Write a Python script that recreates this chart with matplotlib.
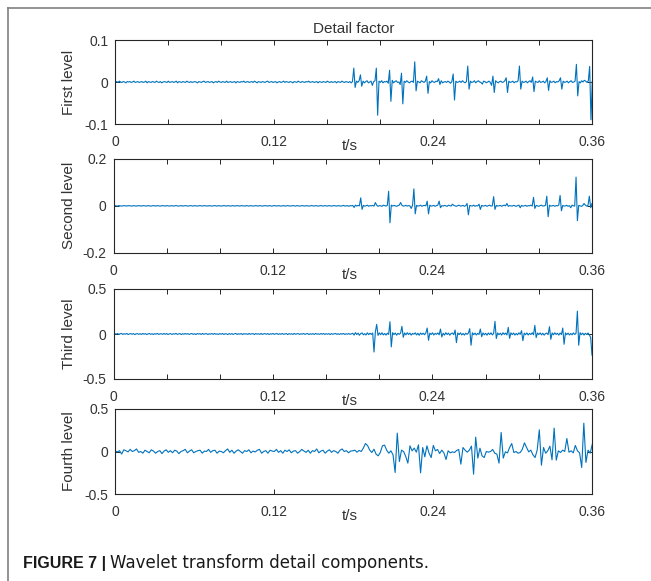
import numpy as np
import matplotlib
matplotlib.use("Agg")
import matplotlib.pyplot as plt
from matplotlib.lines import Line2D

# ---- data (levels 1-3: one sample per ms, values in units of 1e-3) ----
first_level = [
    0, 1, -1, 2, 0, -1, 1, 0, -2, 1, 0, 1, -1, 0, 2, -1, 0, 1, -1, 0,
    1, -1, 0, 2, -2, 1, 0, -1, 1, 0, -1, 2, 0, -1, 1, -2, 0, 1, 0, -1,
    2, -1, 0, 1, -1, 0, 2, -2, 1, 0, -1, 1, 0, -1, 2, 0, -1, 1, -1, 0,
    1, 0, -2, 1, 0, -1, 1, 2, -1, 0, 1, -1, 0, 1, -2, 0, 1, -1, 2, 0,
    -1, 1, 0, -1, 2, -1, 0, 1, -1, 0, 1, -2, 1, 0, -1, 1, 0, 2, -1, 0,
    1, -1, 0, 1, -1, 2, 0, -2, 1, 0, -1, 1, 0, -1, 1, 2, -1, 0, 1, -1,
    0, 1, -2, 0, 1, -1, 0, 2, -1, 1, 0, -1, 1, 0, -2, 1, 0, -1, 2, 0,
    -1, 1, 0, -1, 1, 0, 2, -1, 0, 1, -1, 0, 1, -2, 1, 0, -1, 1, 0, -1,
    2, 0, -1, 1, -1, 0, 1, -2, 1, 0, -1, 2, 0, -1, 1, 0, -1, 1, -2, 1,
    33, -13, 2, -1, 3, 17, -10, 2, -2, 1, 3, -2, 0, 2, -8, 1, 3, 33, -79, 2,
    -1, 3, -2, 1, 0, 2, -3, 28, -46, 4, -2, 1, 3, -1, 0, -6, 21, -52, 2, -1,
    3, 0, -2, 1, 2, -1, 48, -21, 2, 0, -2, 3, 1, -1, 2, 14, -27, 1, -2, 3,
    0, -1, 2, 1, 8, -6, 3, -2, 0, 1, -1, 2, 0, -3, 1, 19, -43, 2, -1, 0,
    2, -1, 3, 0, -2, 1, 38, -17, 2, -1, 0, 3, -2, 1, 3, 0, -1, -5, 2, 1,
    -2, 0, 2, -1, -8, 14, -25, 3, 0, -2, 1, 2, -1, 0, 3, 10, -25, 2, -1, 0,
    2, -2, 1, 0, 3, 38, -17, 2, -1, 0, 2, -2, 1, 3, -1, 12, -23, 2, 0, -1,
    3, -1, 0, 2, -2, 1, 10, -20, 3, -1, 0, 2, -2, 1, 0, 3, 10, -17, 2, -1,
    0, 2, -2, 1, 3, -1, 0, 2, 42, -33, 1, -2, 3, 0, 4, 2, -1, 3, 37, -90, 2,
]

second_level = [
    0, 1, 0, -1, 1, 0, -1, 0, 1, 0, -1, 1, 0, 0, -1, 1, 0, -1, 0, 1,
    0, -1, 1, 0, 0, -1, 1, 0, -1, 0, 1, 0, -1, 1, 0, -1, 0, 1, 0, -1,
    1, 0, -1, 0, 1, -1, 0, 1, 0, -1, 0, 1, -1, 0, 1, 0, -1, 0, 1, 0,
    -1, 1, 0, -1, 0, 1, 0, -1, 1, 0, 0, -1, 1, 0, -1, 0, 1, 0, -1, 1,
    0, -1, 0, 1, 0, -1, 1, 0, -1, 0, 1, -1, 0, 1, 0, -1, 1, 0, 0, -1,
    1, 0, -1, 1, 0, -1, 0, 1, 0, -1, 1, 0, -1, 0, 1, 0, -1, 1, 0, -1,
    0, 1, 0, -1, 1, 0, -1, 0, 1, -1, 0, 1, 0, -1, 0, 1, 0, -1, 1, 0,
    -1, 0, 1, 0, -1, 1, 0, -1, 0, 1, 0, -1, 1, 0, -1, 0, 1, 0, -1, 1,
    0, -1, 1, 0, -1, 0, 1, 0, -1, 1, 0, -1, 0, 2, -1, 0, 1, -2, 1, 0,
    2, -7, 3, -1, 2, 0, 34, -15, 2, -1, 0, 3, -2, 1, 0, 2, -1, 14, 3, -2,
    1, 0, -2, 3, 1, -1, 2, 62, -72, 3, -1, 2, 0, -2, 1, 3, 14, 2, -1, 0,
    2, -1, 1, 0, -11, 3, 72, -34, 2, -1, 0, 3, -2, 1, 2, 0, 20, -34, 3, -1,
    0, 2, -2, 1, 3, 20, -8, 1, -1, 2, 0, -2, 3, 1, -1, 7, 2, 0, -2, 1,
    3, -1, 0, 2, -2, 1, 10, -38, 2, 0, -1, 3, -2, 1, 0, 7, -15, 2, -1, 0,
    2, -2, 1, 3, -1, 0, 39, -15, 2, -1, 0, 2, -2, 1, 3, 0, 10, -2, 1, 0,
    -1, 2, 0, -2, 1, 3, -8, 2, -1, 0, 2, -2, 1, 0, 3, -1, 36, -11, 2, 0,
    -2, 1, 3, -1, 0, 2, 41, -46, 3, -1, 0, 2, -2, 1, 0, 3, 44, -21, 2, -1,
    0, 2, -2, 1, -8, 3, 0, -1, 122, -63, 2, 0, -2, 1, 10, 3, -1, 2, 41, -8, 10,
]

third_level = [
    0, 5, -3, 6, -4, 2, 7, -5, 3, -2, 6, -6, 1, 4, -3, 5, -7, 2, 4, -4,
    3, -5, 6, -2, 4, -6, 2, 5, -4, 3, -6, 4, -1, 6, -5, 2, 3, -4, 6, -3,
    5, -6, 2, 4, -5, 3, -2, 7, -4, 1, 5, -6, 3, -3, 6, -2, 4, -5, 2, 5,
    -4, 3, -6, 5, -1, 4, -5, 6, -3, 2, 4, -6, 3, -2, 5, -4, 6, -3, 2, -5,
    4, -2, 6, -5, 3, 1, -6, 5, -3, 4, -4, 2, 6, -5, 3, -2, 5, -6, 4, -1,
    3, -5, 6, -3, 2, 4, -6, 5, -2, 3, -4, 6, -5, 2, 4, -3, 5, -6, 3, -2,
    6, -4, 2, 5, -5, 3, -3, 6, -4, 1, 5, -6, 4, -2, 3, -5, 6, -3, 2, 4,
    -5, 3, -2, 6, -4, 2, 5, -6, 3, -3, 4, -5, 6, -2, 2, -4, 5, -3, 6, -5,
    3, -2, 4, -6, 5, -3, 2, 6, -4, 3, -5, 4, -2, 6, -5, 3, -3, 5, -4, 2,
    8, -12, 15, -6, 10, -14, 5, 12, -9, 4, -11, 13, -7, 9, -5, 11, -200, 22, 107, -15,
    12, -8, 14, -10, 6, -12, 9, -5, 136, -143, 15, -7, 11, -13, 8, -4, 10, 85, -37, 12,
    -9, 14, -6, 10, -12, 7, -3, 13, -10, 8, -14, 11, -5, 9, -8, 12, 66, -70, 10, -6,
    13, -11, 7, -4, 12, -9, 55, -33, 8, -12, 14, -6, 10, -13, 5, 11, -8, 44, -96, 12,
    -7, 13, -10, 6, -12, 9, -4, 11, 59, -125, 14, -8, 10, -11, 7, -5, 55, -30, 12, -9,
    8, -13, 11, -6, 13, -10, 5, 140, -50, 12, -8, 9, -12, 14, -5, 10, -11, 74, -48, 13,
    -7, 11, -12, 6, -9, 13, -4, 37, -74, 10, -8, 12, -11, 7, -6, 14, -9, 96, -40, 11,
    -6, 12, -10, 8, -13, 5, 10, -7, 81, -59, 12, -9, 14, -5, 8, -12, 11, -6, 66, -114,
    13, -8, 10, -11, 6, -9, 12, -5, 8, 254, -125, 15, -7, 10, -12, 8, -6, 11, -9, -40, -235,
]

# level 4: coarser sampling (226 samples over 0.36 s), units of 1e-3
fourth_level = [
    5, -5, 10, -30, 20, 10, -5, 25, 0, 10, 30, -10, 0, -20, 15, 0, -15, 20, 5, -20,
    0, 10, -25, 5, 20, -10, 10, -15, 15, 5, -25, 0, 10, 25, -15, 5, 20, -15, 0, 10,
    15, -20, 5, 0, 25, -10, 10, 15, -20, 5, 0, -15, 10, 30, -10, 15, -20, 5, 20, 0,
    -20, 10, 0, 20, -15, 5, -5, 15, 25, -20, 0, 10, -20, 15, 5, 0, 25, -10, 10, -20,
    15, 0, 20, -15, 5, 10, -20, 0, 25, 5, -10, 15, -20, 10, 0, 30, -15, 5, 15, -20,
    5, 20, -10, 10, 0, -20, 15, 30, 0, 10, -15, 5,
    8, 16, -8, 12, 0, 40, 94, 70, 16, -12, 27, -31, -51, -12, 67, 75, 16, -20, 8, -39,
    -247, 216, -118, 16, 0, -59, -137, 67, 8, 40, -8, 78, -251, 47, -63, 67, -20, -71, 71, 8,
    24, -24, 16, -16, -94, 8, -16, -4, -12, 12, 24, -149, 47, 16, -8, 16, 63, -267, 169, -78,
    39, -51, -71, 0, -8, 0, 24, -20, -31, -137, 224, -78, -4, -16, 47, 94, -12, 0, -20, -12,
    27, 102, 47, -4, 16, -39, -71, 16, 255, -161, 47, -20, 8, 63, -98, 275, -102, 8, -12, 16,
    0, 153, -8, 8, -16, 71, 8, -16, -188, 333, -129, 16, -20, 86,
]

levels = [first_level, second_level, third_level, fourth_level]
level_names = ["First level", "Second level", "Third level", "Fourth level"]
y_limits = [0.1, 0.2, 0.5, 0.5]
y_tick_labels = [["-0.1", "0", "0.1"], ["-0.2", "0", "0.2"],
                 ["-0.5", "0", "0.5"], ["-0.5", "0", "0.5"]]
x_major = [0, 0.12, 0.24, 0.36]
x_tick_labels = ["0", "0.12", "0.24", "0.36"]
x_minor = [0.04, 0.08, 0.16, 0.2, 0.28, 0.32]

W, H = 651, 581
# axes boxes in pixels: left, top, right, bottom
boxes = [(115.3, 40, 592.3, 124), (113.5, 158.7, 592, 253),
         (113.5, 289, 592, 379), (115.3, 409, 592.3, 494)]

plt.rcParams['font.family'] = ['Liberation Sans', 'DejaVu Sans']
line_color = '#0072BD'
text_color = '#333333'
edge_color = '#262626'

fig = plt.figure(figsize=(W / 100, H / 100), dpi=100)

for i, vals in enumerate(levels):
    l, t, r, b = boxes[i]
    ax = fig.add_axes([l / W, 1 - b / H, (r - l) / W, (b - t) / H])
    y = np.array(vals) / 1000.0
    x = np.linspace(0, 0.36, len(y))
    ax.plot(x, y, color=line_color, lw=0.8)

    lim = y_limits[i]
    ax.set_xlim(0, 0.36)
    ax.set_ylim(-lim, lim)
    ax.set_yticks([-lim, 0, lim])
    ax.set_yticklabels(y_tick_labels[i])
    ax.set_xticks(x_major)
    ax.set_xticklabels(x_tick_labels)
    if i < 3:
        ax.set_xticks(x_minor, minor=True)

    ax.tick_params(which='both', direction='in', length=3.4, width=0.7,
                   top=True, right=True, color=edge_color)
    ax.tick_params(axis='x', labelsize=10, labelcolor=text_color, pad=8)
    ax.tick_params(axis='y', labelsize=10, labelcolor=text_color, pad=5)
    for sp in ax.spines.values():
        sp.set_color(edge_color)
        sp.set_linewidth(0.8)

    ax.set_ylabel(level_names[i], fontsize=11, color=text_color, va='center')
    ax.yaxis.set_label_coords(-(l - 69) / (r - l), 0.5)
    ax.set_xlabel("t/s", fontsize=11, color=text_color, va='top')
    ax.xaxis.set_label_coords((350 - l) / (r - l), -15 / (b - t))

    if i == 0:
        ax.set_title("Detail factor", fontsize=11, color=text_color, pad=4.7)

# outer frame (left and top edges)
fig.add_artist(Line2D([7.5 / W, 7.5 / W], [0, 1 - 7.5 / H],
                      transform=fig.transFigure, color='#808080', lw=1.2))
fig.add_artist(Line2D([7.5 / W, 1], [1 - 7.5 / H, 1 - 7.5 / H],
                      transform=fig.transFigure, color='#808080', lw=1.2))

# caption: bold lead-in, then regular text placed right after it
cap_y = 1 - 568.3 / H
lead = fig.text(22.7 / W, cap_y, "FIGURE 7 |", fontsize=11.5, fontweight='bold',
                family='Liberation Sans', color='#1a1a1a', va='baseline')
renderer = fig.canvas.get_renderer()
lead_end = lead.get_window_extent(renderer).x1
fig.text((lead_end + 4) / W, cap_y, "Wavelet transform detail components.",
         fontsize=12, family='DejaVu Sans', color='#1a1a1a', va='baseline')

fig.savefig("out.png", dpi=100)
